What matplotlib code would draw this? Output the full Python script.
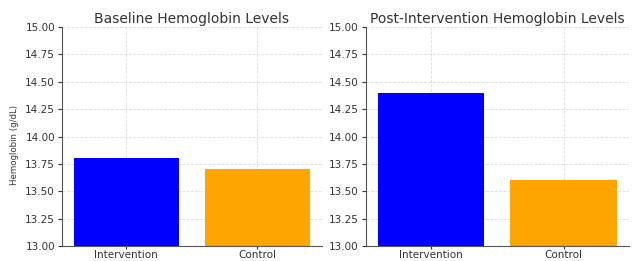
import matplotlib
matplotlib.use("Agg")
import matplotlib.pyplot as plt

groups = ["Intervention", "Control"]
baseline = [13.8, 13.7]
post = [14.4, 13.6]
colors = ["blue", "orange"]
titles = ["Baseline Hemoglobin Levels", "Post-Intervention Hemoglobin Levels"]
yticks = [13.00, 13.25, 13.50, 13.75, 14.00, 14.25, 14.50, 14.75, 15.00]

fig = plt.figure(figsize=(6.35, 2.61), dpi=100)
ax1 = fig.add_axes([0.0976, 0.0575, 0.409, 0.839])
ax2 = fig.add_axes([0.576, 0.0575, 0.414, 0.839])

for ax, vals, title in zip([ax1, ax2], [baseline, post], titles):
    ax.bar(groups, vals, color=colors, width=0.8, zorder=2)
    ax.set_ylim(13, 15)
    ax.set_yticks(yticks)
    ax.set_yticklabels([f"{t:.2f}" for t in yticks], fontsize=7.5, color="#333333")
    ax.tick_params(axis="x", labelsize=7.5, colors="#333333", length=2, pad=1)
    ax.tick_params(axis="y", length=3, pad=2, colors="#333333")
    ax.set_title(title, fontsize=10, color="#333333", pad=3)
    ax.grid(True, linestyle="--", color="#dddddd", linewidth=0.6, zorder=0)
    ax.spines["top"].set_visible(False)
    ax.spines["right"].set_visible(False)
    ax.spines["left"].set_color("#555555")
    ax.spines["bottom"].set_color("#555555")
    ax.set_axisbelow(True)

ax1.set_ylabel("Hemoglobin (g/dL)", fontsize=6.2, fontfamily="Liberation Sans Narrow", color="#333333")
ax1.yaxis.set_label_coords(-0.165, 0.46)

fig.savefig("out.png", dpi=100)
